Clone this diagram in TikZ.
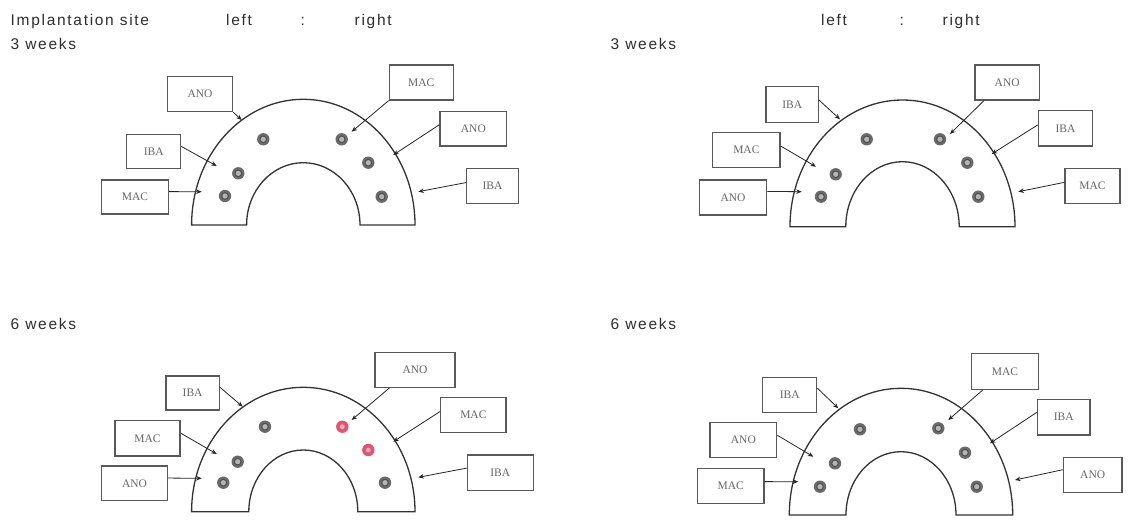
\documentclass[tikz,border=0pt]{standalone}
\usepackage{fontspec}
\usetikzlibrary{arrows.meta}
\newfontfamily\hdfont[LetterSpace=11]{Liberation Sans}
\newfontfamily\boxfont{Liberation Serif}
\definecolor{ink}{HTML}{333333}
\definecolor{implant}{HTML}{6A6A6A}
\definecolor{implantcore}{HTML}{B4B4B4}
\definecolor{flagged}{RGB}{226,84,116}
\definecolor{flaggedcore}{RGB}{246,170,188}

% half-ring bone model: centre x, base y, outer radii, inner radii
\newcommand\halfring[6]{%
  \draw[ringline] ({#1-#3},#2) arc[start angle=180,end angle=360,x radius=#3,y radius=#4]
    -- ({#1+#5},#2) arc[start angle=0,end angle=-180,x radius=#5,y radius=#6] -- cycle;}
% implant marker
\newcommand\implant[2]{%
  \fill[implant] (#1,#2) circle[radius=6.2];
  \fill[implantcore] (#1,#2) circle[radius=2.6];
  \draw[implant!70!black,line width=0.6pt] (#1,#2) circle[radius=3.4];}
\newcommand\redimplant[2]{%
  \fill[flagged] (#1,#2) circle[radius=6.2];
  \fill[flaggedcore] (#1,#2) circle[radius=2.4];}
% label box from corner coordinates
\newcommand\tagbox[6]{%
  \node[tagstyle,minimum width={(#4-#2)*1pt},minimum height={(#5-#3)*1pt}]
    (#1) at ({(#2+#4)/2},{(#3+#5)/2}) {#6};}

\tikzset{
  ringline/.style={draw=ink,line width=1.3pt,fill=white},
  tagstyle/.style={draw=black!65,line width=1.2pt,fill=white,inner sep=0pt,
    font=\boxfont\fontsize{11.5}{12}\selectfont,text=black!60},
  conn/.style={draw=black!85,line width=0.8pt,-{Stealth[length=5.5pt,width=4.5pt]}},
  hd/.style={anchor=base west,inner sep=0pt,text=black!82,
    font=\hdfont\fontsize{15.5}{18}\selectfont},
}

\begin{document}
\begin{tikzpicture}[x=1pt,y=-1pt]
\useasboundingbox[fill=white] (0,0) rectangle (1130,521);

% headings
\node[hd] (title) at (10.5,25.5) {Implantation site};
\node[hd] (lefta) at (226,25.5) {left};
\node[hd] (colona) at (300.5,25.5) {:};
\node[hd] (righta) at (354.5,25.5) {right};
\node[hd] (leftb) at (821,25.5) {left};
\node[hd] (colonb) at (899.5,25.5) {:};
\node[hd] (rightb) at (942.5,25.5) {right};
\node[hd] (wka) at (10.5,50) {3 weeks};
\node[hd] (wkb) at (610.5,50) {3 weeks};
\node[hd] (wkc) at (10.5,330) {6 weeks};
\node[hd] (wkd) at (610.5,330) {6 weeks};

% ---- 3 weeks, first model
\halfring{303.3}{225}{111.7}{125.7}{56.7}{62.3}
\implant{263.3}{139.3}\implant{238.3}{173.3}\implant{225}{196}
\implant{341.7}{139.3}\implant{368.3}{162.7}\implant{381.7}{196.7}
\tagbox{a1}{167.3}{76.7}{232.7}{111.7}{ANO}
\tagbox{a2}{126.7}{134.3}{180.7}{168.3}{IBA}
\tagbox{a3}{101.7}{180}{168.3}{214}{MAC}
\tagbox{a4}{389.3}{65}{453.3}{100}{MAC}
\tagbox{a5}{440}{111.7}{506.7}{146}{ANO}
\tagbox{a6}{466.7}{168.3}{518.3}{203.3}{IBA}
\coordinate (ta1) at (241.7,120);
\coordinate (ta2) at (216.7,166);
\coordinate (ta3) at (201.7,191.7);
\coordinate (ta4) at (351.7,131.7);
\coordinate (ta5) at (393.3,155);
\coordinate (ta6) at (418.3,191.7);
\draw[conn] (a1.south east) -- (ta1);
\draw[conn] (a2.10) -- (ta2);
\draw[conn] (a3.9) -- (ta3);
\draw[conn] (a4.south west) -- (ta4);
\draw[conn] (a5.173) -- (ta5);
\draw[conn] (a6.173) -- (ta6);

% ---- 3 weeks, second model
\halfring{902.5}{226.7}{112.5}{126.7}{56.7}{65}
\implant{866.7}{139.3}\implant{835.7}{174.3}\implant{821}{196.7}
\implant{940}{139.3}\implant{967.3}{162.7}\implant{978.3}{196.7}
\tagbox{b1}{766}{86.7}{818.3}{122.7}{IBA}
\tagbox{b2}{712.7}{132.7}{780}{167.7}{MAC}
\tagbox{b3}{699.3}{180}{766.7}{215}{ANO}
\tagbox{b4}{975}{65}{1039.3}{100}{ANO}
\tagbox{b5}{1038.3}{110.7}{1092.7}{146}{IBA}
\tagbox{b6}{1065}{168.3}{1120}{203.3}{MAC}
\coordinate (tb1) at (840,119.3);
\coordinate (tb2) at (816,166.7);
\coordinate (tb3) at (801.7,191.7);
\coordinate (tb4) at (950,134);
\coordinate (tb5) at (991.7,154);
\coordinate (tb6) at (1018.3,191.7);
\draw[conn] (b1.10) -- (tb1);
\draw[conn] (b2.7) -- (tb2);
\draw[conn] (b3.10) -- (tb3);
\draw[conn] (b4.218) -- (tb4);
\draw[conn] (b5.173) -- (tb5);
\draw[conn] (b6.173) -- (tb6);

% ---- 6 weeks, first model
\halfring{303.3}{511.7}{111.7}{124.4}{54.5}{61.7}
\implant{265}{426.7}\implant{237.7}{461.7}\implant{223.3}{482.7}
\redimplant{342.3}{426.7}\redimplant{368.3}{450}\implant{385}{482.7}
\tagbox{c1}{166}{376}{219.3}{410}{IBA}
\tagbox{c2}{115}{420.7}{180}{456}{MAC}
\tagbox{c3}{101.7}{466}{167.3}{500.7}{ANO}
\tagbox{c4}{375}{352.7}{455}{387.3}{ANO}
\tagbox{c5}{440.7}{397.3}{506}{432.7}{MAC}
\tagbox{c6}{467.3}{455}{533.3}{490.7}{IBA}
\coordinate (tc1) at (242.7,406.7);
\coordinate (tc2) at (216.7,454);
\coordinate (tc3) at (201.7,478.3);
\coordinate (tc4) at (351.7,420);
\coordinate (tc5) at (393.3,441.7);
\coordinate (tc6) at (418.3,477.3);
\draw[conn] (c1.12) -- (tc1);
\draw[conn] (c2.9) -- (tc2);
\draw[conn] (c3.9) -- (tc3);
\draw[conn] (c4.215) -- (tc4);
\draw[conn] (c5.174) -- (tc5);
\draw[conn] (c6.172) -- (tc6);

% ---- 6 weeks, second model
\halfring{901}{515}{111.7}{126.7}{55}{63.3}
\implant{860}{429.3}\implant{835}{463.3}\implant{820}{486.7}
\implant{938.3}{428.3}\implant{965}{452.7}\implant{976.7}{486.7}
\tagbox{d1}{762.7}{377.3}{816.7}{412.7}{IBA}
\tagbox{d2}{710}{422.7}{776.7}{457.3}{ANO}
\tagbox{d3}{697.3}{468.3}{764}{503.3}{MAC}
\tagbox{d4}{971.7}{353.3}{1038.3}{389.3}{MAC}
\tagbox{d5}{1037.3}{399.3}{1090}{435}{IBA}
\tagbox{d6}{1063.3}{457.3}{1122}{492.7}{ANO}
\coordinate (td1) at (838.3,408.3);
\coordinate (td2) at (813.3,456.7);
\coordinate (td3) at (798.3,481.7);
\coordinate (td4) at (948.3,420);
\coordinate (td5) at (990,443.3);
\coordinate (td6) at (1015,480);
\draw[conn] (d1.14) -- (td1);
\draw[conn] (d2.8) -- (td2);
\draw[conn] (d3.7) -- (td3);
\draw[conn] (d4.220) -- (td4);
\draw[conn] (d5.170) -- (td5);
\draw[conn] (d6.170) -- (td6);
\end{tikzpicture}
\end{document}
